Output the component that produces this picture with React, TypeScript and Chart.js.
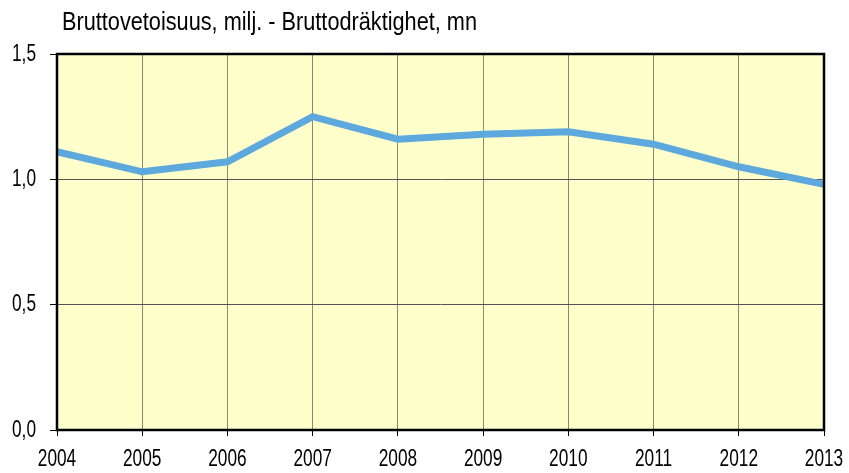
import React, { useEffect, useRef } from "react";
import { Chart, registerables } from "chart.js";

Chart.register(...registerables);

const TITLE = "Bruttovetoisuus, milj. - Bruttodräktighet, mn";
const years = ["2004", "2005", "2006", "2007", "2008", "2009", "2010", "2011", "2012", "2013"];
const tonnage = [1.11, 1.03, 1.07, 1.25, 1.16, 1.18, 1.19, 1.14, 1.05, 0.98];
const yTicks = [0, 0.5, 1.0, 1.5];
const yMin = 0;
const yMax = 1.5;
const yStep = 0.5;

const FONT = "'Liberation Sans', Arial, sans-serif";
const fmt = (v: number) => v.toFixed(1).replace(".", ",");

function drawNarrow(ctx: CanvasRenderingContext2D, text: string, x: number, y: number, sx: number, align: CanvasTextAlign) {
  ctx.save();
  ctx.translate(x, y);
  ctx.scale(sx, 1);
  ctx.textAlign = align;
  ctx.fillText(text, 0, 0);
  ctx.restore();
}

const framePlugin = {
  id: "frame",
  beforeDraw(chart: any) {
    const { ctx, chartArea: a } = chart;
    ctx.save();
    ctx.fillStyle = "#FFFFCC";
    ctx.fillRect(a.left, a.top, a.right - a.left, a.bottom - a.top);
    ctx.restore();
  },
  afterDatasetsDraw(chart: any) {
    const { ctx, chartArea: a } = chart;
    ctx.save();
    ctx.strokeStyle = "#000";
    ctx.lineWidth = 2.5;
    ctx.strokeRect(a.left, a.top, a.right - a.left, a.bottom - a.top);
    ctx.restore();
  },
  afterDraw(chart: any) {
    const { ctx } = chart;
    const xs = chart.scales.x;
    const ys = chart.scales.y;
    ctx.save();
    ctx.fillStyle = "#000";
    ctx.textBaseline = "middle";
    // title
    ctx.font = `25px ${FONT}`;
    const tw = ctx.measureText(TITLE).width;
    drawNarrow(ctx, TITLE, 62, 23, 415 / tw, "left");
    // tick labels
    ctx.font = `24px ${FONT}`;
    years.forEach((lab, i) => {
      drawNarrow(ctx, lab, xs.getPixelForValue(i), 459, 0.72, "center");
    });
    yTicks.forEach((v) => {
      drawNarrow(ctx, fmt(v), 36, ys.getPixelForValue(v), 0.72, "right");
    });
    ctx.restore();
  },
};

export default function App() {
  const ref = useRef<HTMLCanvasElement>(null);
  useEffect(() => {
    document.body.style.margin = "0";
    const chart = new Chart(ref.current!, {
      type: "line",
      data: {
        labels: years,
        datasets: [
          {
            data: tonnage,
            borderColor: "#5DA8DC",
            borderWidth: 7,
            pointRadius: 0,
            tension: 0,
            fill: false,
          },
        ],
      },
      options: {
        animation: false,
        responsive: false,
        layout: { padding: { left: 0, top: 54, right: 25, bottom: 0 } },
        plugins: { legend: { display: false }, tooltip: { enabled: false }, title: { display: false } },
        scales: {
          x: {
            offset: false,
            afterFit: (s: any) => {
              s.height = 43;
            },
            grid: {
              color: "#8a8a70",
              lineWidth: 1,
              drawTicks: true,
              tickLength: 6,
              tickColor: "#000",
            },
            border: { display: false },
            ticks: { display: false, autoSkip: false, maxRotation: 0 },
          },
          y: {
            min: yMin,
            max: yMax,
            afterFit: (s: any) => {
              s.width = 57;
            },
            grid: {
              color: "#555",
              lineWidth: 1,
              drawTicks: true,
              tickLength: 7,
              tickColor: "#000",
            },
            border: { display: false },
            ticks: { display: false, stepSize: yStep },
          },
        },
      },
      plugins: [framePlugin],
    });
    return () => chart.destroy();
  }, []);
  return (
    <div style={{ width: 849, height: 473 }}>
      <canvas ref={ref} width={849} height={473} />
    </div>
  );
}
